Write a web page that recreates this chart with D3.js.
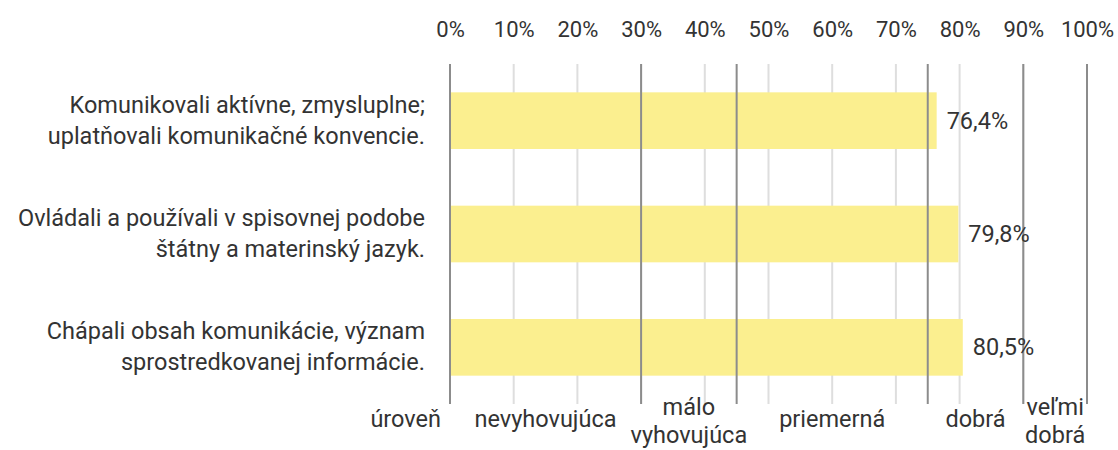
<!DOCTYPE html>
<html>
<head>
<meta charset="utf-8">
<script src="https://cdn.jsdelivr.net/npm/d3@7"></script>
<style>
  html, body { margin: 0; padding: 0; background: #fff; }
  svg text { font-family: Roboto, "Noto Sans", sans-serif; fill: #333; }
</style>
</head>
<body>
<svg id="chart" width="1118" height="450"></svg>
<script>
const categories = [
  ["Komunikovali aktívne, zmysluplne;", "uplatňovali komunikačné konvencie."],
  ["Ovládali a používali v spisovnej podobe", "štátny a materinský jazyk."],
  ["Chápali obsah komunikácie, význam", "sprostredkovanej informácie."]
];
const values = [76.4, 79.8, 80.5];
const valueLabels = ["76,4%", "79,8%", "80,5%"];
const tickValues = [0, 10, 20, 30, 40, 50, 60, 70, 80, 90, 100];
const tickLabels = ["0%", "10%", "20%", "30%", "40%", "50%", "60%", "70%", "80%", "90%", "100%"];
const thresholds = [0, 30, 45, 75, 90, 100];
const levelTitle = "úroveň";
const levelNames = [["nevyhovujúca"], ["málo", "vyhovujúca"], ["priemerná"], ["dobrá"], ["veľmi", "dobrá"]];

const svg = d3.select("#chart");
const x = d3.scaleLinear().domain([0, 100]).range([450, 1087]);
const y = d3.scaleBand().domain(d3.range(categories.length)).range([64, 404])
  .paddingInner(0.5).paddingOuter(0.25);

// light gridlines
svg.append("g").selectAll("line").data(tickValues).join("line")
  .attr("x1", d => x(d)).attr("x2", d => x(d))
  .attr("y1", 64).attr("y2", 404)
  .attr("stroke", "#dedede").attr("stroke-width", 2);

// top tick labels via axis
const axis = svg.append("g").attr("transform", "translate(0,37)")
  .call(d3.axisTop(x).tickValues(tickValues).tickFormat((d, i) => tickLabels[i]).tickSize(0).tickPadding(0));
axis.select(".domain").remove();
axis.selectAll("text").attr("font-size", 22).attr("fill", "#333").attr("dy", 0)
  .style("font-family", "Roboto, sans-serif");

// bars
svg.append("g").selectAll("rect").data(values).join("rect")
  .attr("x", x(0)).attr("y", (d, i) => y(i))
  .attr("width", d => x(d) - x(0)).attr("height", y.bandwidth())
  .attr("fill", "#fbef8f");

// threshold lines
svg.append("g").selectAll("line").data(thresholds).join("line")
  .attr("x1", d => x(d)).attr("x2", d => x(d))
  .attr("y1", 64).attr("y2", 404)
  .attr("stroke", "#8c8c8c").attr("stroke-width", 2);

// value labels
svg.append("g").selectAll("text").data(values).join("text")
  .attr("x", d => x(d) + 10).attr("y", (d, i) => y(i) + y.bandwidth() / 2 + 8)
  .attr("font-size", 23.5).text((d, i) => valueLabels[i]);

// category labels
const cat = svg.append("g").selectAll("text").data(categories).join("text")
  .attr("text-anchor", "end").attr("font-size", 23.5)
  .attr("y", (d, i) => y(i) + y.bandwidth() / 2);
cat.selectAll("tspan").data(d => d).join("tspan")
  .attr("x", 425).attr("dy", (d, j) => j === 0 ? -8 : 31).text(d => d);

// level labels
svg.append("text").attr("x", x(0) - 9).attr("y", 427).attr("text-anchor", "end")
  .attr("font-size", 23.5).text(levelTitle);
const lv = svg.append("g").selectAll("text").data(levelNames).join("text")
  .attr("text-anchor", "middle").attr("font-size", 23.5)
  .attr("x", (d, i) => x((thresholds[i] + thresholds[i + 1]) / 2))
  .attr("y", d => d.length > 1 ? 415 : 427);
lv.selectAll("tspan").data(d => d).join("tspan")
  .attr("x", function() { return this.parentNode.getAttribute("x"); })
  .attr("dy", (d, j) => j === 0 ? 0 : 28).text(d => d);
</script>
</body>
</html>
